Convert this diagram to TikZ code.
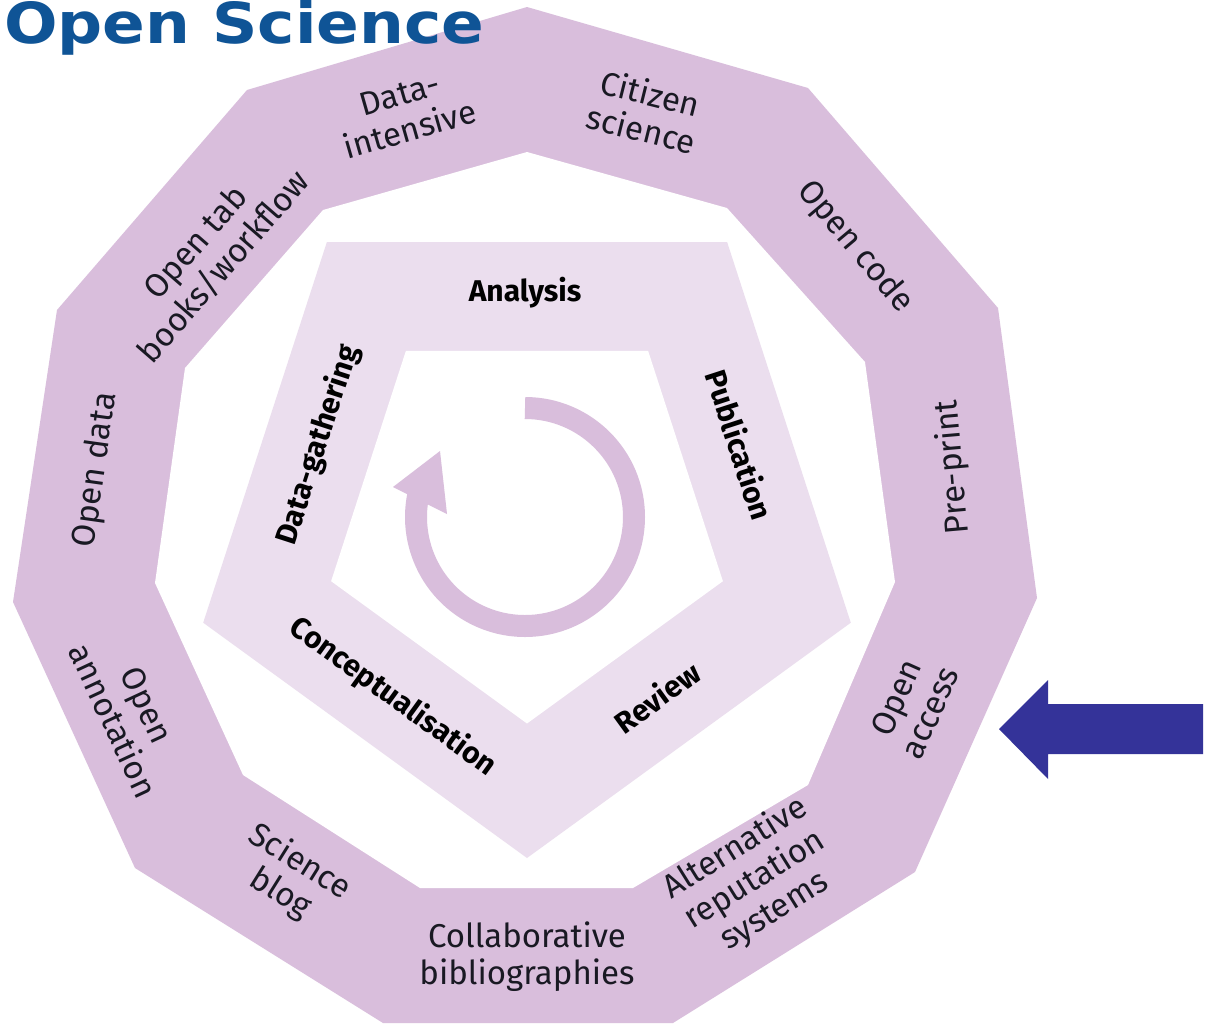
\documentclass[tikz,border=0pt]{standalone}
\usepackage{fontspec}
\setmainfont{Fira Sans}
\newfontfamily\titlefont{DejaVu Sans}
\definecolor{band}{RGB}{217,190,220}
\definecolor{lightband}{RGB}{235,222,238}
\definecolor{arrowblue}{RGB}{52,51,153}
\definecolor{titleblue}{RGB}{15,84,150}
\definecolor{labeltext}{RGB}{25,25,35}
\tikzset{
  outerlabel/.style={inner sep=0pt, align=center, text=labeltext, font=\fontsize{33}{37}\selectfont},
  innerlabel/.style={inner sep=0pt, align=center, text=black, font=\fontsize{30}{34}\selectfont\bfseries},
}
\begin{document}
\begin{tikzpicture}[x=1pt,y=-1pt]
\useasboundingbox (0,0) rectangle (1210,1026);
\clip (0,0) rectangle (1210,1026);
\fill[white] (0,0) rectangle (1210,1026);
% outer band
\fill[band] (527,7) -- (808,88) -- (998,308) -- (1037,598) -- (915,872) -- (673,1023) -- (383,1023) -- (135,868) -- (13,602) -- (57,310) -- (247,90) -- cycle;
\fill[white] (527,152) -- (727,208) -- (865,362) -- (895,582) -- (808,785) -- (633,888) -- (420,888) -- (243,775) -- (155,583) -- (185,368) -- (323,210) -- cycle;
% pentagon band
\fill[lightband] (326.9,242) -- (727.1,242) -- (850.8,622.7) -- (527,858) -- (203.2,622.7) -- cycle;
\fill[white] (405.9,350.8) -- (648.1,350.8) -- (722.9,581.2) -- (527,723.5) -- (331.1,581.2) -- cycle;
% circular arrow
\coordinate (cstart) at (525,408);
\draw[band, line width=22pt, line cap=butt] (cstart) arc[start angle=-90, end angle=192, radius=109];
\fill[band] (393,487) -- (440,451) -- (447,514) -- cycle;
% title
\node[anchor=base west, inner sep=0pt, text=titleblue] (title) at (4,43) {\resizebox{480pt}{43pt}{\titlefont\bfseries Open Science}};
% blue arrow
\fill[arrowblue] (1203,704) -- (1048,704) -- (1048,680) -- (999,729) -- (1048,779) -- (1048,754) -- (1203,754) -- cycle;
% outer labels
\node[outerlabel, rotate=16] (dataint) at (405,112) {Data-\\intensive};
\node[outerlabel, rotate=-14] (citizen) at (646,111) {Citizen\\science};
\node[outerlabel, rotate=-50] (opencode) at (855,247) {Open code};
\node[outerlabel, rotate=95] (preprint) at (953,467) {Pre-print};
\node[outerlabel, rotate=66] (openaccess) at (913,705) {Open\\access};
\node[outerlabel, rotate=32] (altrep) at (755,880) {Alternative\\reputation\\systems};
\node[outerlabel] (collab) at (527,957) {Collaborative\\bibliographies};
\node[outerlabel, rotate=-32] (sciblog) at (290,878) {Science\\blog};
\node[outerlabel, rotate=-65] (openann) at (130,713) {Open\\annotation};
\node[outerlabel, rotate=82] (opendata) at (96,470) {Open data};
\node[outerlabel, rotate=49] (opentab) at (210,255) {Open tab\\books/workflow};
% inner labels
\node[innerlabel] (analysis) at (525,293) {Analysis};
\node[innerlabel, rotate=-72] (publication) at (740,445) {Publication};
\node[innerlabel, rotate=36] (review) at (657,697) {Review};
\node[innerlabel, rotate=-36] (concept) at (393,697) {Conceptualisation};
\node[innerlabel, rotate=72] (datagath) at (318,445) {Data-gathering};
\end{tikzpicture}
\end{document}
